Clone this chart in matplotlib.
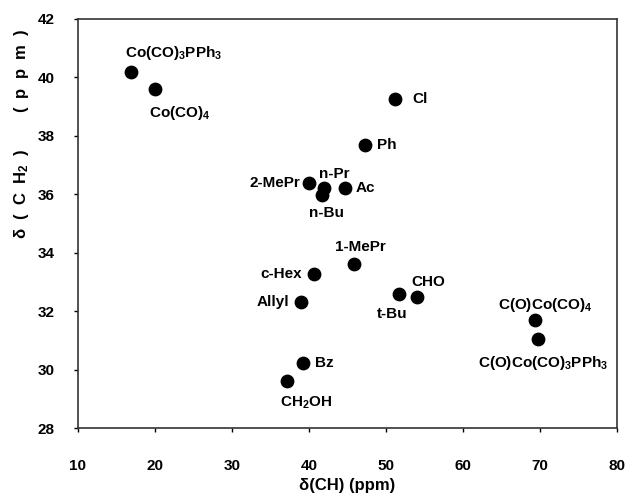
import matplotlib
matplotlib.use("Agg")
import matplotlib.pyplot as plt

plt.rcParams['font.family'] = ['Liberation Sans', 'DejaVu Sans']
plt.rcParams['font.weight'] = 'bold'
plt.rcParams['mathtext.default'] = 'regular'

# substituent labels and shifts
names = [r'Co(CO)$_3$PPh$_3$', r'Co(CO)$_4$', 'Cl', 'Ph', '2-MePr', 'n-Pr', 'n-Bu', 'Ac',
         '1-MePr', 'c-Hex', 'Allyl', 't-Bu', 'CHO', r'C(O)Co(CO)$_4$',
         r'C(O)Co(CO)$_3$PPh$_3$', 'Bz', r'CH$_2$OH']
d_ch = [16.9, 20.0, 51.2, 47.3, 40.0, 41.9, 41.7, 44.7,
        45.9, 40.7, 39.0, 51.7, 54.0, 69.4, 69.7, 39.2, 37.2]
d_ch2 = [40.2, 39.6, 39.25, 37.7, 36.4, 36.2, 35.97, 36.2,
         33.6, 33.26, 32.3, 32.6, 32.5, 31.7, 31.06, 30.24, 29.6]

# label placement: (dx, dy) in pixels, ha
offsets = [(-6, 19, 'left'), (-6, -24, 'left'), (17, 0, 'left'), (12, 0, 'left'),
           (-9, 0, 'right'), (-5, 14, 'left'), (-13, -18, 'left'), (10, 0, 'left'),
           (6, 17, 'center'), (-12, 0, 'right'), (-12, 0, 'right'), (-7, -20, 'center'),
           (12, 15, 'center'), (10, 15, 'center'), (5, -24, 'center'), (12, 0, 'left'),
           (-7, -22, 'left')]

fig = plt.figure(figsize=(6.26, 4.96), dpi=100)
ax = fig.add_axes([0.1246, 0.137, 0.861, 0.8247])

ax.scatter(d_ch, d_ch2, s=80, color='black', zorder=3)
for n, x, y, (dx, dy, ha) in zip(names, d_ch, d_ch2, offsets):
    ax.annotate(n, (x, y), xytext=(dx, dy), textcoords='offset pixels',
                ha=ha, va='center', fontsize=11, fontweight='bold')

ax.set_xlim(10, 80)
ax.set_ylim(28, 42)
ax.set_xticks(range(10, 81, 10))
ax.set_yticks(range(28, 43, 2))
ax.tick_params(direction='out', length=3, width=1, labelsize=11)
ax.tick_params(axis='x', pad=19)
ax.tick_params(axis='y', pad=14)
for lab in ax.get_xticklabels() + ax.get_yticklabels():
    lab.set_fontweight('bold')
for sp in ax.spines.values():
    sp.set_linewidth(1.2)
    sp.set_color('#333333')

ax.set_xlabel('δ(CH) (ppm)', fontsize=12, fontweight='bold', labelpad=4)
fig.text(22 / 626, 1 - 134 / 496, r'δ  (  C  H$_2$  )        (  p  p  m  )',
         rotation=90, ha='center', va='center', fontsize=12, fontweight='bold')

fig.savefig('out.png', dpi=100)
